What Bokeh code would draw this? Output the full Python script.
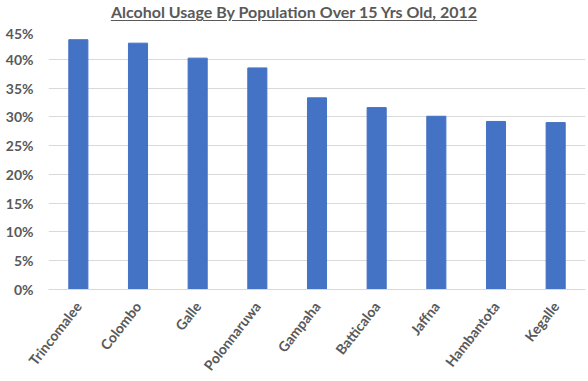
import math
from bokeh.plotting import figure
from bokeh.models import ColumnDataSource, FixedTicker, NumeralTickFormatter, Div, Range1d
from bokeh.layouts import column
from bokeh.embed import file_html
from bokeh.resources import INLINE

districts = ["Trincomalee", "Colombo", "Galle", "Polonnaruwa", "Gampaha",
             "Batticaloa", "Jaffna", "Hambantota", "Kegalle"]
usage = [0.434, 0.428, 0.402, 0.385, 0.333, 0.316, 0.301, 0.292, 0.290]
y_ticks = [0, 0.05, 0.10, 0.15, 0.20, 0.25, 0.30, 0.35, 0.40, 0.45]
title_text = "Alcohol Usage By Population Over 15 Yrs Old, 2012"

FONT = "Lato"
GRAY = "#595959"

src = ColumnDataSource(data=dict(district=districts, usage=usage))

p = figure(x_range=districts, y_range=Range1d(0, 0.45), width=588, height=357,
           output_backend="svg", toolbar_location=None,
           min_border_left=48, min_border_right=3, min_border_top=6, min_border_bottom=88)
p.vbar(x="district", top="usage", width=0.32, source=src, color="#4472C4")

p.outline_line_color = None
p.xgrid.grid_line_color = None
p.ygrid.grid_line_color = "#d9d9d9"
p.ygrid.grid_line_width = 1

p.yaxis.ticker = FixedTicker(ticks=y_ticks)
p.yaxis.formatter = NumeralTickFormatter(format="0%")
p.yaxis.axis_line_color = None
p.yaxis.major_tick_line_color = None
p.yaxis.minor_tick_line_color = None
p.yaxis.major_label_text_font = FONT
p.yaxis.major_label_text_font_style = "bold"
p.yaxis.major_label_text_font_size = "14px"
p.yaxis.major_label_text_color = GRAY
p.yaxis.major_label_standoff = 9

p.xaxis.axis_line_color = "#d9d9d9"
p.xaxis.major_tick_line_color = None
p.xaxis.major_tick_out = 0
p.xaxis.major_label_orientation = math.radians(52)
p.xaxis.major_label_text_font = FONT
p.xaxis.major_label_text_font_style = "bold"
p.xaxis.major_label_text_font_size = "14px"
p.xaxis.major_label_text_color = GRAY
p.xaxis.major_label_standoff = 14

title = Div(text=f"<u>{title_text}</u>", width=588, height=24,
            styles={"text-align": "center", "font-family": FONT, "font-weight": "bold",
                    "font-size": "16px", "color": GRAY, "width": "588px",
                    "line-height": "24px", "margin": "0", "text-underline-offset": "2px"})

layout = column(title, p, spacing=0)
open("out.html", "w").write(file_html(layout, INLINE))
